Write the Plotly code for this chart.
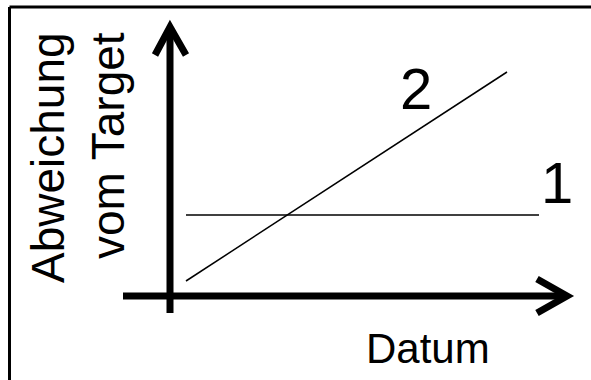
import plotly.graph_objects as go

# Schematic data (x: Datum, y: Abweichung vom Target), arbitrary units
datum_1 = [16, 369]
abw_1 = [81, 81]
datum_2 = [16, 337]
abw_2 = [15, 224]
labels = ["1", "2"]

FONT = "Arial, Liberation Sans, Helvetica, sans-serif"

fig = go.Figure()
fig.add_trace(go.Scatter(x=datum_1, y=abw_1, mode="lines",
                         line=dict(color="black", width=1.5), showlegend=False, hoverinfo="skip"))
fig.add_trace(go.Scatter(x=datum_2, y=abw_2, mode="lines",
                         line=dict(color="black", width=1.5), showlegend=False, hoverinfo="skip"))

shapes = []
AX = dict(color="black", width=7)
# y axis with arrow
shapes.append(dict(type="line", xref="x", yref="y", x0=0, x1=0, y0=-17, y1=266, line=AX))
shapes.append(dict(type="path", xref="x", yref="y", path="M -15,241 L 0,269 L 16,241", line=AX))
# x axis with arrow
shapes.append(dict(type="line", xref="x", yref="y", x0=-47, x1=394, y0=0, y1=0, line=AX))
shapes.append(dict(type="path", xref="x", yref="y", path="M 367,17 L 397,0 L 367,-17", line=AX))
# frame (top and left only)
shapes.append(dict(type="line", xref="paper", yref="paper", x0=9.5/591, x1=1.01, y0=1-7/380, y1=1-7/380,
                   line=dict(color="black", width=3)))
shapes.append(dict(type="line", xref="paper", yref="paper", x0=9.5/591, x1=9.5/591, y0=-0.01, y1=1-7/380,
                   line=dict(color="black", width=3)))

annotations = [
    dict(x=datum_1[1] + 18, y=abw_1[1] + 33, xref="x", yref="y", text=labels[0], showarrow=False,
         font=dict(family=FONT, size=58, color="black"), xanchor="center", yanchor="middle"),
    dict(x=246, y=208, xref="x", yref="y", text=labels[1], showarrow=False,
         font=dict(family=FONT, size=58, color="black"), xanchor="center", yanchor="middle"),
    dict(x=258, y=-52, xref="x", yref="y", text="Datum", showarrow=False,
         font=dict(family=FONT, size=42, color="black"), xanchor="center", yanchor="middle"),
    dict(x=78 / 591, y=1 - 158 / 380, xref="paper", yref="paper", text="Abweichung<br>vom Target",
         showarrow=False, textangle=-90, align="right",
         font=dict(family=FONT, size=46, color="black"), xanchor="center", yanchor="middle"),
]

fig.update_layout(
    width=591, height=380,
    margin=dict(l=0, r=0, t=0, b=0),
    paper_bgcolor="white", plot_bgcolor="white",
    xaxis=dict(range=[-170, 421], visible=False, fixedrange=True),
    yaxis=dict(range=[-84, 296], visible=False, fixedrange=True),
    shapes=shapes, annotations=annotations,
)

fig.write_html("out.html", config={"displayModeBar": False},
               post_script="document.body.style.margin='0';document.body.style.overflow='hidden';")
